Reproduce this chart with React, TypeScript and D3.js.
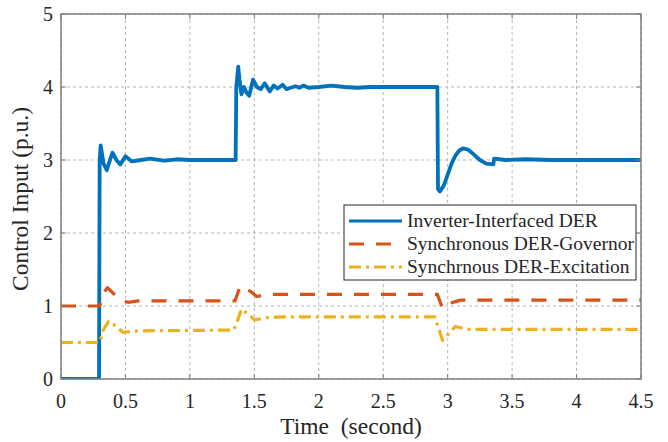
import React from "react";
import * as d3 from "d3";

const xTicks = [0, 0.5, 1, 1.5, 2, 2.5, 3, 3.5, 4, 4.5];
const yTicks = [0, 1, 2, 3, 4, 5];
const seriesNames = ["Inverter-Interfaced DER", "Synchronous DER-Governor", "Synchrnous DER-Excitation"];

const blueT = [0, 0.295, 0.3, 0.308, 0.33, 0.355, 0.38, 0.4, 0.43, 0.46, 0.5, 0.55, 0.62, 0.69, 0.8, 0.9, 1.0, 1.1, 1.2, 1.355, 1.36, 1.375, 1.385, 1.4, 1.42, 1.44, 1.46, 1.49, 1.52, 1.55, 1.58, 1.62, 1.65, 1.68, 1.72, 1.75, 1.78, 1.82, 1.85, 1.88, 1.92, 2.0, 2.1, 2.2, 2.3, 2.4, 2.5, 2.6, 2.7, 2.8, 2.92, 2.925, 2.94, 2.97, 3.0, 3.03, 3.06, 3.09, 3.12, 3.16, 3.2, 3.25, 3.3, 3.355, 3.36, 3.45, 3.6, 3.8, 4.5];
const blueV = [0, 0, 3.0, 3.2, 2.95, 2.86, 3.0, 3.1, 3.0, 2.94, 3.05, 2.98, 3.0, 3.02, 2.99, 3.01, 3.0, 3.0, 3.0, 3.0, 4.0, 4.28, 4.1, 3.9, 4.0, 3.92, 3.88, 4.1, 4.0, 3.97, 4.05, 3.94, 4.02, 3.98, 4.03, 3.97, 3.99, 4.01, 3.99, 4.02, 3.99, 4.0, 4.02, 4.0, 3.99, 4.0, 4.0, 4.0, 4.0, 4.0, 4.0, 2.6, 2.57, 2.65, 2.8, 2.95, 3.06, 3.13, 3.16, 3.14, 3.08, 3.0, 2.95, 2.94, 3.02, 3.0, 3.01, 3.0, 3.0];

const redT = [0, 0.3, 0.33, 0.36, 0.42, 0.47, 0.52, 0.6, 1.2, 1.35, 1.39, 1.47, 1.52, 1.6, 1.7, 2.92, 2.96, 3.02, 3.1, 4.5];
const redV = [1.0, 1.0, 1.18, 1.25, 1.15, 1.08, 1.05, 1.07, 1.07, 1.07, 1.27, 1.2, 1.13, 1.16, 1.16, 1.16, 0.97, 1.04, 1.08, 1.08];

const yelT = [0, 0.3, 0.33, 0.37, 0.43, 0.48, 0.6, 1.34, 1.37, 1.4, 1.46, 1.5, 1.6, 1.7, 2.9, 2.96, 3.06, 3.15, 4.5];
const yelV = [0.5, 0.5, 0.68, 0.79, 0.72, 0.64, 0.66, 0.67, 0.8, 0.96, 0.88, 0.81, 0.84, 0.85, 0.85, 0.53, 0.72, 0.68, 0.68];

const W = 668, H = 442;
const M = { left: 61, right: 641, top: 14, bottom: 379 };
const FONT = "Liberation Serif, Times New Roman, serif";
const colors = ["#0072BD", "#D95319", "#EDB120"];
const dashes = ["none", "15,12", "12,5,3,5"];

export default function App() {
  const x = d3.scaleLinear().domain([0, 4.5]).range([M.left, M.right]);
  const y = d3.scaleLinear().domain([0, 5]).range([M.bottom, M.top]);
  const line = d3.line<[number, number]>().x(d => x(d[0])).y(d => y(d[1]));
  const series = [
    blueT.map((t, i) => [t, blueV[i]] as [number, number]),
    redT.map((t, i) => [t, redV[i]] as [number, number]),
    yelT.map((t, i) => [t, yelV[i]] as [number, number]),
  ];
  const legX = 344, legY = 205, legW = 292, legH = 75;
  const axisColor = "#808080";
  return (
    <svg width={W} height={H} style={{ position: "absolute", left: 0, top: 0, background: "#fff" }}>
      <rect x={0} y={0} width={W} height={H} fill="#fff" />
      {xTicks.map(t => (
        <line key={"gx" + t} x1={x(t)} x2={x(t)} y1={M.top} y2={M.bottom} stroke="#b4b4b4" strokeWidth={1} strokeDasharray="3,3" />
      ))}
      {yTicks.map(t => (
        <line key={"gy" + t} x1={M.left} x2={M.right} y1={y(t)} y2={y(t)} stroke="#b4b4b4" strokeWidth={1} strokeDasharray="3,3" />
      ))}
      <defs>
        <clipPath id="clip"><rect x={M.left} y={M.top} width={M.right - M.left} height={M.bottom - M.top} /></clipPath>
      </defs>
      <g clipPath="url(#clip)">
        {series.map((s, i) => (
          <path key={i} d={line(s) || ""} fill="none" stroke={colors[i]} strokeWidth={i === 0 ? 3.8 : 3.2} strokeDasharray={dashes[i]} strokeLinejoin="round" />
        ))}
      </g>
      <rect x={M.left} y={M.top} width={M.right - M.left} height={M.bottom - M.top} fill="none" stroke={axisColor} strokeWidth={1.5} />
      {xTicks.map(t => (
        <g key={"tx" + t}>
          <line x1={x(t)} x2={x(t)} y1={M.bottom} y2={M.bottom - 5} stroke={axisColor} />
          <line x1={x(t)} x2={x(t)} y1={M.top} y2={M.top + 5} stroke={axisColor} />
          <text x={x(t)} y={M.bottom + 29} textAnchor="middle" fontFamily={FONT} fontSize={20} fill="#262626">{t}</text>
        </g>
      ))}
      {yTicks.map(t => (
        <g key={"ty" + t}>
          <line x1={M.left} x2={M.left + 5} y1={y(t)} y2={y(t)} stroke={axisColor} />
          <line x1={M.right} x2={M.right - 5} y1={y(t)} y2={y(t)} stroke={axisColor} />
          <text x={M.left - 8} y={y(t) + 7} textAnchor="end" fontFamily={FONT} fontSize={20} fill="#262626">{t}</text>
        </g>
      ))}
      <text x={(M.left + M.right) / 2} y={434} textAnchor="middle" fontFamily={FONT} fontSize={23.5} fill="#262626" style={{ whiteSpace: "pre" }}>{"Time  (second)"}</text>
      <text transform={`translate(28,199) rotate(-90)`} textAnchor="middle" fontFamily={FONT} fontSize={23.5} fill="#262626">Control Input (p.u.)</text>
      <rect x={legX} y={legY} width={legW} height={legH} fill="#fff" stroke="#262626" strokeWidth={1} />
      {seriesNames.map((n, i) => (
        <g key={n}>
          <line x1={legX + 5} x2={legX + 58} y1={legY + 16 + i * 23} y2={legY + 16 + i * 23} stroke={colors[i]} strokeWidth={3.2} strokeDasharray={dashes[i]} />
          <text x={legX + 63} y={legY + 22 + i * 23} fontFamily={FONT} fontSize={19.5} fill="#262626">{n}</text>
        </g>
      ))}
    </svg>
  );
}
